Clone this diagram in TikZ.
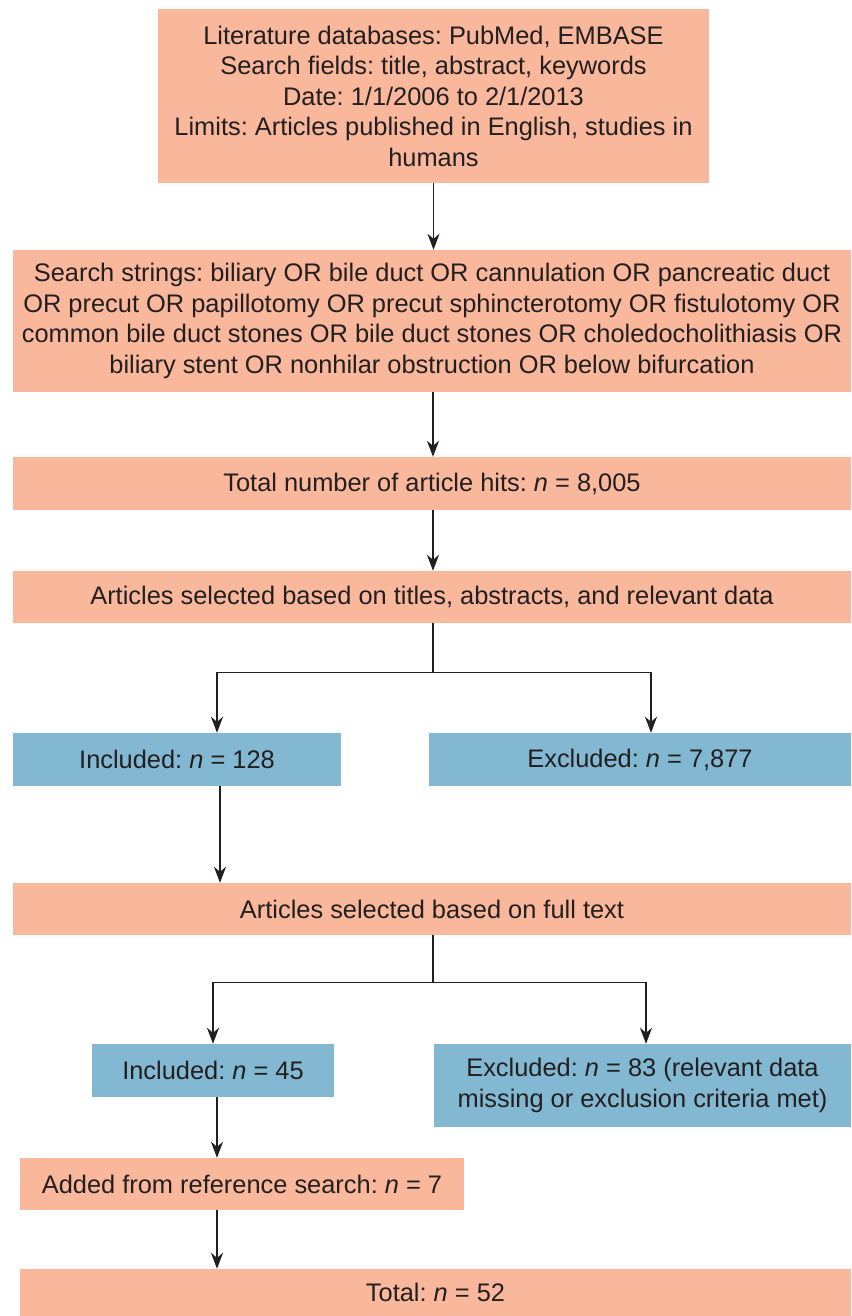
\documentclass[tikz,border=0pt]{standalone}
\usepackage{fontspec}
\setmainfont{Liberation Sans}
\usetikzlibrary{arrows.meta}
\definecolor{salmon}{RGB}{249,183,156}
\definecolor{bluebox}{RGB}{130,184,209}
\definecolor{ink}{RGB}{35,31,32}
\frenchspacing
\tikzset{
  box/.style={rectangle, inner sep=0pt, align=center, text=ink,
    font=\fontsize{25.4}{30.5}\selectfont},
  sbox/.style={box, fill=salmon},
  bbox/.style={box, fill=bluebox},
  conn/.style={draw=ink, line width=1.4pt},
  arr/.style={conn, -{Stealth[length=16pt,width=12pt,inset=5pt]}}
}
\begin{document}
\begin{tikzpicture}[x=1pt,y=-1pt]
\useasboundingbox (0,0) rectangle (851,1316);
\node[sbox, minimum width=551pt, minimum height=174pt] (b1) at (433.5,96)
  {Literature databases: PubMed, EMBASE\\Search fields: title, abstract, keywords\\Date: 1/1/2006 to 2/1/2013\\Limits: Articles published in English, studies in\\humans};
\node[sbox, minimum width=838pt, minimum height=142pt] (b2) at (432,321)
  {Search strings: biliary OR bile duct OR cannulation OR pancreatic duct\\OR precut OR papillotomy OR precut sphincterotomy OR fistulotomy OR\\common bile duct stones OR bile duct stones OR choledocholithiasis OR\\biliary stent OR nonhilar obstruction OR below bifurcation};
\node[sbox, minimum width=838pt, minimum height=53pt] (b3) at (432,483.5)
  {Total number of article hits: \textit{n} = 8,005};
\node[sbox, minimum width=838pt, minimum height=52pt] (b4) at (432,597)
  {Articles selected based on titles, abstracts, and relevant data};
\node[bbox, minimum width=328pt, minimum height=53pt] (b5i) at (177,759.5)
  {Included: \textit{n} = 128};
\node[bbox, minimum width=422pt, minimum height=53pt] (b5e) at (640,759.5)
  {Excluded: \textit{n} = 7,877};
\node[sbox, minimum width=838pt, minimum height=52pt] (b6) at (432,909)
  {Articles selected based on full text};
\node[bbox, minimum width=242pt, minimum height=53pt] (b7i) at (213,1070.5)
  {Included: \textit{n} = 45};
\node[bbox, minimum width=417pt, minimum height=83pt] (b7e) at (642.5,1085.5)
  {Excluded: \textit{n} = 83 (relevant data\\missing or exclusion criteria met)};
\node[sbox, minimum width=444pt, minimum height=52pt] (b8) at (242,1184)
  {Added from reference search: \textit{n} = 7};
\node[sbox, minimum width=831pt, minimum height=47pt] (b9) at (435.5,1292.5)
  {Total: \textit{n} = 52};

\coordinate (j1) at ([yshift=-49pt,xshift=1pt]b4.south);
\coordinate (j2) at ([yshift=-47pt,xshift=1pt]b6.south);

\draw[arr] (b1.south) -- (b1.south |- b2.north);
\draw[arr] ([xshift=1pt]b2.south) -- ([xshift=1pt]b2.south |- b3.north);
\draw[arr] ([xshift=1pt]b3.south) -- ([xshift=1pt]b3.south |- b4.north);
\draw[conn] (j1 |- b4.south) -- (j1);
\draw[arr] (j1) -| ([xshift=40pt]b5i.north);
\draw[arr] (j1) -| ([xshift=11pt]b5e.north);
\draw[arr] ([xshift=43pt]b5i.south) -- ([xshift=43pt]b5i.south |- b6.north);
\draw[conn] (j2 |- b6.south) -- (j2);
\draw[arr] (j2) -| (b7i.north);
\draw[arr] (j2) -| ([xshift=3.5pt]b7e.north);
\draw[arr] ([xshift=4pt]b7i.south) -- ([xshift=4pt]b7i.south |- b8.north);
\draw[arr] ([xshift=-25pt]b8.south) -- ([xshift=-25pt]b8.south |- b9.north);
\end{tikzpicture}
\end{document}
